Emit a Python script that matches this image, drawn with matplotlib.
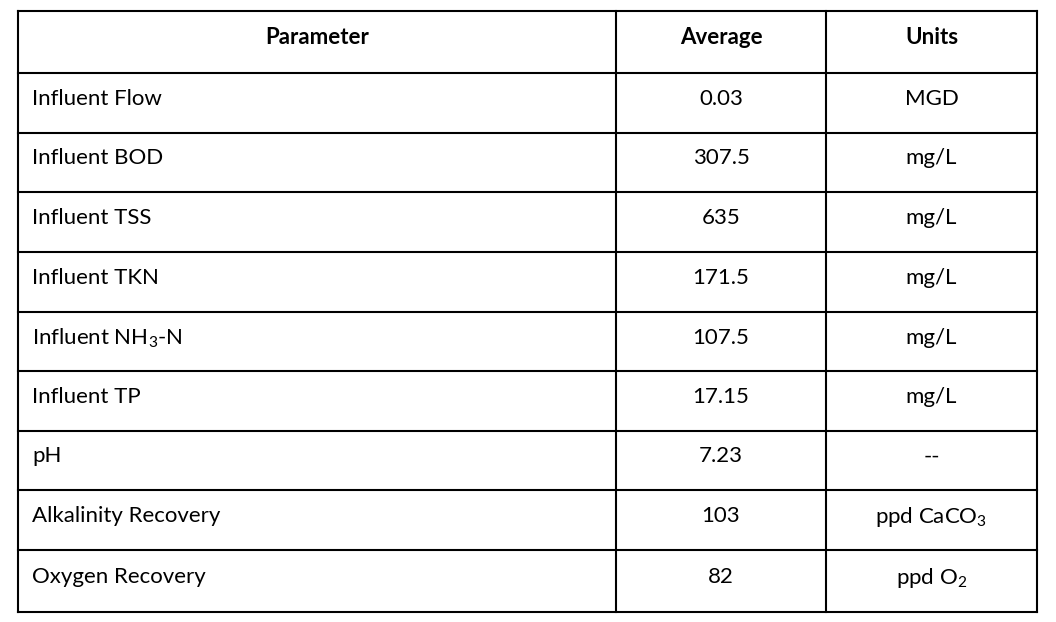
import matplotlib
matplotlib.use("Agg")
import matplotlib.pyplot as plt

headers = ["Parameter", "Average", "Units"]
parameters = ["Influent Flow", "Influent BOD", "Influent TSS", "Influent TKN",
              "Influent NH$_3$-N", "Influent TP", "pH", "Alkalinity Recovery", "Oxygen Recovery"]
averages = ["0.03", "307.5", "635", "171.5", "107.5", "17.15", "7.23", "103", "82"]
units = ["MGD", "mg/L", "mg/L", "mg/L", "mg/L", "mg/L", "--", "ppd CaCO$_3$", "ppd O$_2$"]

plt.rcParams['font.family'] = ['Lato', 'DejaVu Sans']
plt.rcParams['mathtext.fontset'] = 'custom'
plt.rcParams['mathtext.rm'] = 'Lato'
plt.rcParams['mathtext.it'] = 'Lato'

W, H = 1056, 622
fig = plt.figure(figsize=(W/100, H/100), dpi=100)
ax = fig.add_axes([0, 0, 1, 1])
ax.set_xlim(0, W); ax.set_ylim(H, 0); ax.axis('off')

xs = [18, 616, 826, 1037]
ys = [11, 73, 133, 192, 252, 312, 371, 431, 490, 550, 612]
for x in xs:
    ax.plot([x, x], [ys[0], ys[-1]], color='black', lw=1.5)
for y in ys:
    ax.plot([xs[0], xs[-1]], [y, y], color='black', lw=1.5)

fs = 16
for j, h in enumerate(headers):
    ax.text((xs[j]+xs[j+1])/2, (ys[0]+ys[1])/2 - 6, h, ha='center', va='center_baseline', fontsize=fs, fontweight='bold')
for i in range(len(parameters)):
    yc = (ys[i+1]+ys[i+2])/2 - 6
    ax.text(32, yc, parameters[i], ha='left', va='center_baseline', fontsize=fs)
    ax.text((xs[1]+xs[2])/2, yc, averages[i], ha='center', va='center_baseline', fontsize=fs)
    ax.text((xs[2]+xs[3])/2, yc, units[i], ha='center', va='center_baseline', fontsize=fs)

fig.savefig("out.png", dpi=100, facecolor='white')
